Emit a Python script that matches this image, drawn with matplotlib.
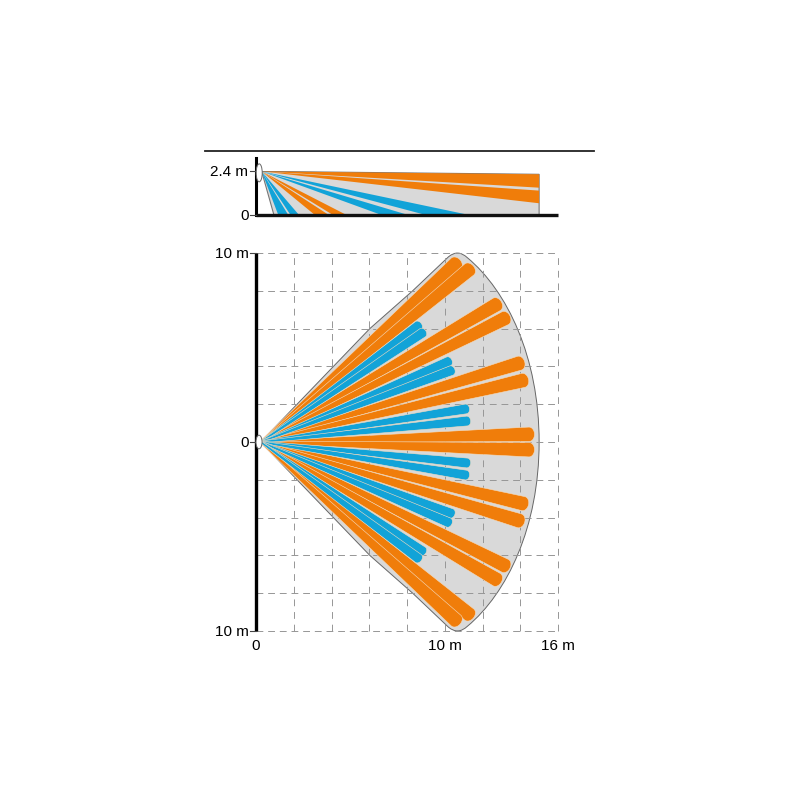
import numpy as np
import matplotlib
matplotlib.use('Agg')
import matplotlib.pyplot as plt
from matplotlib.path import Path
from matplotlib.patches import PathPatch, Polygon, Ellipse

plt.rcParams['font.family'] = ['Liberation Sans', 'DejaVu Sans']

ORANGE = '#f07d0a'
BLUE = '#12a3d8'
GRAY = '#d9d9d9'
HALO = '#f4dcc0'

# plan view: beam ends in metres
orange_x = [10.60, 11.30, 12.75, 13.20, 13.96, 14.16, 14.47, 14.47, 14.16, 13.96, 13.20, 12.75, 11.30, 10.60]
orange_y = [9.45, 9.13, 7.28, 6.55, 4.17, 3.26, 0.41, -0.41, -3.26, -4.17, -6.55, -7.28, -9.13, -9.45]
blue_x = [8.60, 8.83, 10.20, 10.35, 11.12, 11.18, 11.18, 11.12, 10.35, 10.20, 8.83, 8.60]
blue_y = [6.16, 5.78, 4.26, 3.78, 1.75, 1.11, -1.11, -1.75, -3.78, -4.26, -5.78, -6.16]

# side view: where each band ends, in metres
side_orange_x = [15.0, 15.0, 3.12, 4.08]
side_orange_lo = [1.49, 0.64, 0.0, 0.0]
side_orange_hi = [2.22, 1.33, 0.0, 0.0]
side_orange_x2 = [15.0, 15.0, 3.86, 4.80]
side_blue_x = [1.18, 1.83, 6.65, 9.00]
side_blue_x2 = [1.71, 2.28, 8.07, 11.30]

grid_x = [2, 4, 6, 8, 10, 12, 14, 16]
grid_y = [-10, -8, -6, -4, -2, 0, 2, 4, 6, 8, 10]


def beam(ax, tx, ty, width, color):
    # wedge from the sensor out to a rounded end, a little wide at the root
    ox, oy = 0.25, 0.0
    d = np.array([tx - ox, ty - oy])
    d = d / np.hypot(*d)
    n = np.array([-d[1], d[0]])
    r = width / 2
    c = np.array([tx, ty])
    t = np.linspace(-np.pi / 2, np.pi / 2, 21)
    cap = [c + n * r * np.sin(a) + d * r * 0.75 * np.cos(a) for a in t]
    root = np.array([ox, oy])
    pts = [root + n * 0.05] + cap[::-1] + [root - n * 0.05]
    ax.add_patch(Polygon(pts, closed=True, fc=color, ec=HALO, lw=0.4, zorder=3, clip_on=False))


fig = plt.figure(figsize=(8, 8), dpi=100)

# plan view
ax = fig.add_axes([256 / 800, 169 / 800, 302 / 800, 378 / 800])
ax.set_xlim(0, 16)
ax.set_ylim(-10, 10)
ax.axis('off')

verts = [(0.25, 0), (6.03, 6.0), (8.3, 8.0), (10.2, 9.8), (10.7, 10.22), (11.2, 9.75),
         (13.3, 8.0), (15.0, 4.5), (15.0, 0), (15.0, -4.5), (13.3, -8.0), (11.2, -9.75),
         (10.7, -10.22), (10.2, -9.8), (8.3, -8.0), (6.03, -6.0), (0.25, 0)]
codes = [Path.MOVETO, Path.LINETO, Path.LINETO, Path.LINETO, Path.CURVE3, Path.CURVE3,
         Path.CURVE4, Path.CURVE4, Path.CURVE4, Path.CURVE4, Path.CURVE4, Path.CURVE4,
         Path.CURVE3, Path.CURVE3, Path.LINETO, Path.LINETO, Path.LINETO]
ax.add_patch(PathPatch(Path(verts, codes), fc=GRAY, ec='#666666', lw=0.7, zorder=1, clip_on=False))

for x in grid_x:
    ax.plot([x, x], [-10, 10], color='#969696', lw=0.7, ls=(0, (7, 6)), zorder=2, clip_on=False)
for y in grid_y:
    ax.plot([0, 16], [y, y], color='#969696', lw=0.7, ls=(0, (7, 5)), zorder=2, clip_on=False)

for x, y in zip(orange_x, orange_y):
    beam(ax, x, y, 0.76, ORANGE)
for x, y in zip(blue_x, blue_y):
    beam(ax, x, y, 0.52, BLUE)

ax.plot([0, 0], [-10, 10], color='black', lw=2.4, zorder=5, solid_capstyle='butt', clip_on=False)
ax.add_patch(Ellipse((0.16, 0), 0.32, 0.72, fc='white', ec='#666666', lw=0.7, zorder=6, clip_on=False))
for y in [-10, 0, 10]:
    ax.plot([-0.32, 0], [y, y], color='#444444', lw=0.8, zorder=5, clip_on=False)
ax.text(-0.4, 9.93, '10 m', ha='right', va='center', fontsize=11)
ax.text(-0.4, -0.05, '0', ha='right', va='center', fontsize=11)
ax.text(-0.4, -10.05, '10 m', ha='right', va='center', fontsize=11)
ax.text(0, -10.8, '0', ha='center', va='center', fontsize=11)
ax.text(10, -10.8, '10 m', ha='center', va='center', fontsize=11)
ax.text(16, -10.8, '16 m', ha='center', va='center', fontsize=11)

# side view
side = fig.add_axes([256 / 800, 585 / 800, 302 / 800, 44 / 800])
side.set_xlim(0, 16)
side.set_ylim(0, 2.4)
side.axis('off')

apex = (0.3, 2.38)
side.add_patch(Polygon([apex, (15.0, 2.22), (15.0, 0), (0.95, 0)], closed=True,
                       fc=GRAY, ec='#777777', lw=0.8, zorder=1))
for x, lo, hi, x2 in zip(side_orange_x, side_orange_lo, side_orange_hi, side_orange_x2):
    side.add_patch(Polygon([apex, (x, hi), (x2, lo)], closed=True, fc=ORANGE, ec='none', zorder=2))
for x, x2 in zip(side_blue_x, side_blue_x2):
    side.add_patch(Polygon([apex, (x, 0), (x2, 0)], closed=True, fc=BLUE, ec='none', zorder=2))

side.plot([0, 0], [0, 3.1], color='black', lw=2.2, zorder=5, clip_on=False)
side.plot([0, 16], [0, 0], color='#111111', lw=2.4, zorder=5, clip_on=False, solid_capstyle='butt')
side.add_patch(Ellipse((0.17, 2.3), 0.32, 0.98, fc='white', ec='#666666', lw=0.7, zorder=6, clip_on=False))
for y in [0, 2.4]:
    side.plot([-0.32, 0], [y, y], color='#444444', lw=0.8, zorder=5, clip_on=False)
side.text(-0.4, 2.35, '2.4 m', ha='right', va='center', fontsize=11)
side.text(-0.4, -0.05, '0', ha='right', va='center', fontsize=11)

# rule over the whole drawing
fig.add_artist(plt.Line2D([205 / 800, 594 / 800], [649 / 800, 649 / 800], color='#222222', lw=1.3))

fig.savefig('out.png', dpi=100)
